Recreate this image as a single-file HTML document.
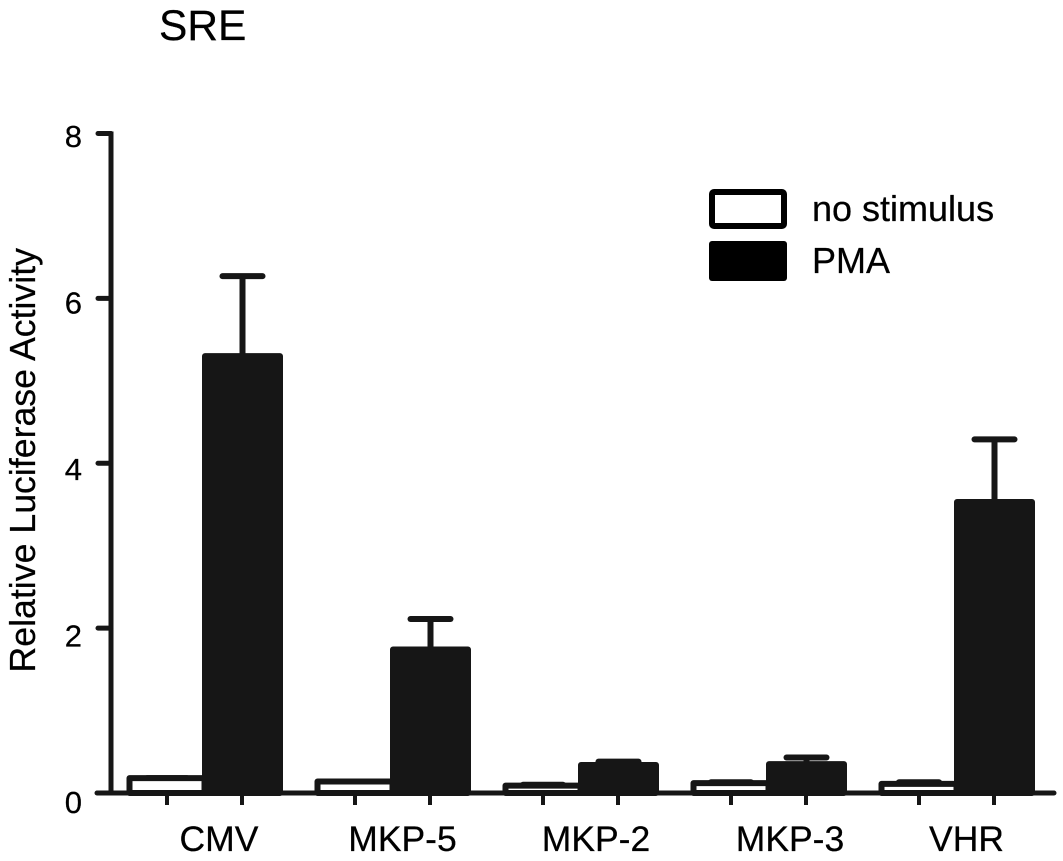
<!DOCTYPE html>
<html>
<head>
<meta charset="utf-8">
<title>SRE Relative Luciferase Activity</title>
<style>
html,body{margin:0;padding:0;background:#fff;}
svg{display:block;}
text{font-family:"Liberation Sans",sans-serif;fill:#000;stroke:#000;stroke-width:0.25px;}
</style>
</head>
<body>
<svg id="chart" xmlns="http://www.w3.org/2000/svg" width="1063" height="861" viewBox="0 0 1063 861">
  <text x="159" y="40" font-size="42.5">SRE</text>
  <text transform="translate(35,672.5) rotate(-90)" font-size="35.7">Relative Luciferase Activity</text>
  <g>
    <rect x="712" y="192" width="72" height="34" rx="2" fill="#fff" stroke="#000" stroke-width="6"/>
    <text x="812" y="221" font-size="36">no stimulus</text>
    <rect x="709" y="241" width="78" height="40" rx="3" fill="#000"/>
    <text x="812" y="273" font-size="36">PMA</text>
  </g>
  <g font-size="35.5" text-anchor="middle">
    <text x="219" y="851">CMV</text>
    <text x="402.5" y="851">MKP-5</text>
    <text x="596" y="851">MKP-2</text>
    <text x="790" y="851">MKP-3</text>
    <text x="966.5" y="851">VHR</text>
  </g>
  <g id="marks"></g>
  <g id="axes"></g>
</svg>
<script>
var categories = ["CMV", "MKP-5", "MKP-2", "MKP-3", "VHR"];
var noStimulus = [0.18, 0.14, 0.09, 0.12, 0.11];
var noStimulusErr = [0.18, 0.14, 0.10, 0.13, 0.13];
var pma = [5.30, 1.74, 0.34, 0.35, 3.53];
var pmaErr = [6.27, 2.11, 0.38, 0.43, 4.29];
var yTicks = [0, 2, 4, 6, 8];
var yTickLabels = ["0", "2", "4", "6", "8"];

var NS = "http://www.w3.org/2000/svg";
var INK = "#161616";
function yScale(v) { return 793 - v * 82.44; }
function labelBaseline(v) { return 813 - v * 83.25; }
function groupX(i) { return 167 + i * 188; }
function make(tag, attrs, parent) {
  var el = document.createElementNS(NS, tag);
  for (var k in attrs) { el.setAttribute(k, attrs[k]); }
  parent.appendChild(el);
  return el;
}
var marks = document.getElementById("marks");
var axes = document.getElementById("axes");
var BAR_W = 75, CAP = 40, SW = 5;

function drawError(cx, top, errTop, parent, capW) {
  var stem = make("line", {x1: cx, x2: cx, y1: yScale(top), y2: yScale(errTop), stroke: INK, "stroke-width": SW + 1}, parent);
  
  
  var cap = make("line", {x1: cx - capW / 2, x2: cx + capW / 2, y1: yScale(errTop), y2: yScale(errTop), stroke: INK, "stroke-width": SW + 1, "stroke-linecap": "round"}, parent);
  
  
}

categories.forEach(function (c, i) {
  var cx = groupX(i);
  var bx = cx + 75.5;
  drawError(cx, noStimulus[i], noStimulusErr[i], marks, CAP);
  var w = make("rect", {x: cx - BAR_W / 2, y: yScale(noStimulus[i]), width: BAR_W, height: yScale(0) - yScale(noStimulus[i]), fill: "#fff", stroke: INK, "stroke-width": SW + 1, "stroke-linejoin": "round"}, marks);
  
  
  drawError(bx, pma[i], pmaErr[i], marks, CAP);
  var b = make("rect", {x: bx - BAR_W / 2, y: yScale(pma[i]), width: BAR_W, height: yScale(0) - yScale(pma[i]), fill: INK, stroke: INK, "stroke-width": SW + 1, "stroke-linejoin": "round"}, marks);
  
  

  [cx, bx - 0.5].forEach(function (tx) {
    var t = make("line", {x1: tx, x2: tx, y1: yScale(0), y2: yScale(0) + 12, stroke: INK, "stroke-width": 4}, axes);
    
    
  });
});

var xAxis = make("line", {x1: 97, x2: 1054, y1: yScale(0), y2: yScale(0), stroke: INK, "stroke-width": 5, "stroke-linecap": "round"}, axes);


var yAxis = make("line", {x1: 111, x2: 111, y1: yScale(8) - 2, y2: yScale(0), stroke: INK, "stroke-width": 5}, axes);



yTicks.forEach(function (v, i) {
  var t = make("line", {x1: 98, x2: 111, y1: yScale(v), y2: yScale(v), stroke: INK, "stroke-width": 5, "stroke-linecap": "round"}, axes);
  
  
  var l = make("text", {x: 82, y: labelBaseline(v), "font-size": 31, "text-anchor": "end"}, axes);
  
  
  l.textContent = yTickLabels[i];
});
</script>
</body>
</html>
